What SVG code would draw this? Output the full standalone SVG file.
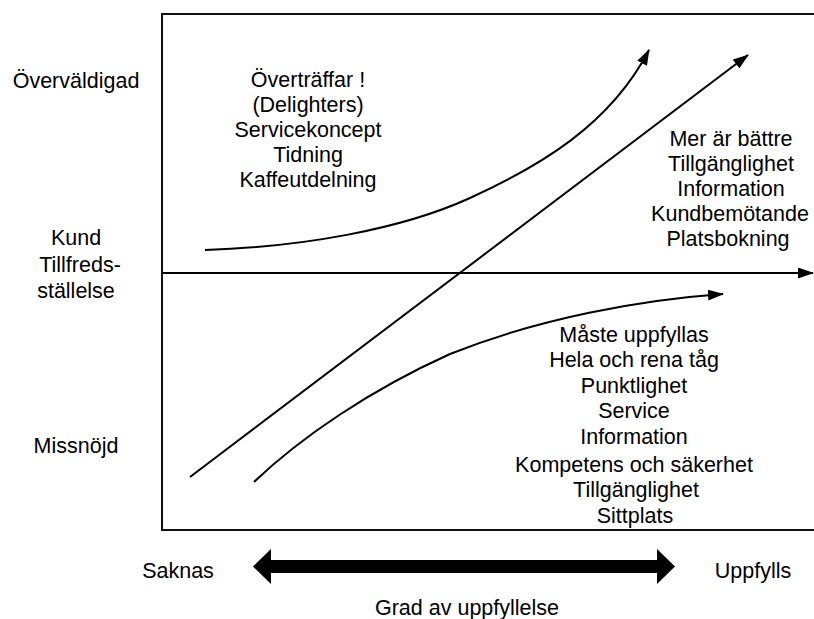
<svg xmlns="http://www.w3.org/2000/svg" width="814" height="619" viewBox="0 0 814 619">
  <style>
    text { font-family: "Liberation Sans", Arial, sans-serif; font-size: 21.5px; fill: #000; text-anchor: middle; }
    .frame { fill: none; stroke: #111; stroke-width: 2; }
    .curve { fill: none; stroke: #000; stroke-width: 2; marker-end: url(#head); }
  </style>
  <defs>
    <marker id="head" viewBox="0 0 16 11" markerWidth="16" markerHeight="11" refX="15" refY="5.5" orient="auto" markerUnits="userSpaceOnUse">
      <path d="M0,0 L16,5.5 L0,11 z" fill="#000"/>
    </marker>
  </defs>

  <!-- chart frame (open to the right) -->
  <g id="frame">
    <path class="frame" d="M820,14 H162 V530 H820"/>
  </g>

  <!-- satisfaction axis labels -->
  <g id="label-overvaldigad"><text x="76" y="88">Överväldigad</text></g>
  <g id="label-kund">
    <text x="76" y="245">Kund</text>
    <text x="80" y="272">Tillfreds-</text>
    <text x="76" y="298">ställelse</text>
  </g>
  <g id="label-missnojd"><text x="76" y="453">Missnöjd</text></g>

  <!-- delighters -->
  <g id="delighters">
    <text x="308" y="87">Överträffar !</text>
    <text x="308" y="112">(Delighters)</text>
    <text x="308" y="137">Servicekoncept</text>
    <text x="308" y="162">Tidning</text>
    <text x="308" y="187">Kaffeutdelning</text>
  </g>

  <!-- performance factors -->
  <g id="more-is-better">
    <text x="731" y="146">Mer är bättre</text>
    <text x="731" y="171">Tillgänglighet</text>
    <text x="731" y="196">Information</text>
    <text x="730" y="221">Kundbemötande</text>
    <text x="728" y="246">Platsbokning</text>
  </g>

  <!-- basic requirements -->
  <g id="must-be">
    <text x="634" y="342">Måste uppfyllas</text>
    <text x="634" y="367">Hela och rena tåg</text>
    <text x="634" y="393">Punktlighet</text>
    <text x="634" y="418">Service</text>
    <text x="634" y="444">Information</text>
    <text x="634" y="472">Kompetens och säkerhet</text>
    <text x="636" y="497">Tillgänglighet</text>
    <text x="635" y="523">Sittplats</text>
  </g>

  <!-- fulfilment axis -->
  <g id="fulfilment-scale">
    <text x="178" y="578">Saknas</text>
    <text x="753" y="578">Uppfylls</text>
    <text x="467" y="615">Grad av uppfyllelse</text>
    <path d="M253,566.5 L271,549 L271,560 L657,560 L657,549 L675,566.5 L657,584 L657,573 L271,573 L271,584 Z" fill="#000"/>
  </g>

  <g id="connectors">
    <!-- horizontal axis -->
    <line class="curve" x1="162" y1="273" x2="813" y2="273"/>
    <!-- delighter curve -->
    <path class="curve" d="M205,250 C300,247 400,230 470,198 C540,166 610,125 649,50"/>
    <!-- linear curve -->
    <path class="curve" d="M190,477 L748,55"/>
    <!-- must-be curve -->
    <path class="curve" d="M254,482 C300,438 370,390 450,354 C540,318 640,300 723,294"/>
  </g>
</svg>
